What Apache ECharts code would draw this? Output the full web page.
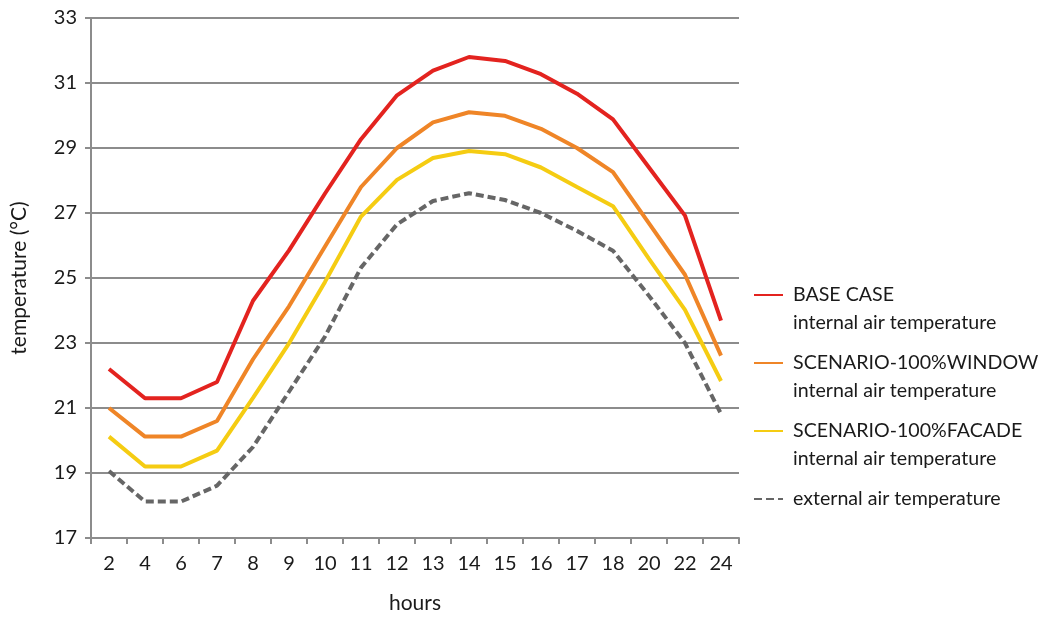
<!DOCTYPE html>
<html>
<head>
<meta charset="utf-8">
<script src="https://cdn.jsdelivr.net/npm/echarts@6/dist/echarts.min.js"></script>
<style>
html,body{margin:0;padding:0;background:#fff;}
#c{width:1042px;height:619px;}
</style>
</head>
<body>
<div id="c"></div>
<script>
var hours = ['2','4','6','7','8','9','10','11','12','13','14','15','16','17','18','20','22','24'];
var yTicks = [17,19,21,23,25,27,29,31,33];
var seriesNames = [
  'BASE CASE\ninternal air temperature',
  'SCENARIO-100%WINDOW\ninternal air temperature',
  'SCENARIO-100%FACADE\ninternal air temperature',
  'external air temperature'
];
var baseCase = [22.2,21.3,21.3,21.8,24.3,25.85,27.6,29.27,30.62,31.38,31.8,31.68,31.27,30.67,29.88,28.4,26.92,23.69];
var window100 = [21.0,20.12,20.12,20.6,22.5,24.13,25.97,27.8,29.0,29.79,30.1,29.99,29.59,29.0,28.26,26.68,25.1,22.61];
var facade100 = [20.12,19.2,19.2,19.69,21.31,22.99,24.88,26.89,28.02,28.69,28.91,28.81,28.4,27.8,27.21,25.59,24.02,21.83];
var external = [19.06,18.12,18.12,18.61,19.8,21.5,23.2,25.32,26.65,27.37,27.61,27.4,27.0,26.45,25.84,24.45,23.0,20.82];
var seriesData = [baseCase, window100, facade100, external];
var colors = ['#e3231f','#ef8527','#f5cc12','#666666'];

var font = 'Lato';
var chart = echarts.init(document.getElementById('c'));
chart.setOption({
  animation: false,
  backgroundColor: '#ffffff',
  grid: {left: 91, right: 303, top: 18, bottom: 73},
  legend: {
    orient: 'vertical',
    left: 753,
    top: 253,
    padding: 0,
    itemWidth: 29,
    itemHeight: 14,
    itemGap: -16,
    data: seriesNames,
    itemStyle: {opacity: 0},
    formatter: function (n) { return n.indexOf('\n') >= 0 ? '\n' + n : '\n' + n + '\n '; },
    textStyle: {fontFamily: font, fontSize: 19.6, color: '#1a1a1a', lineHeight: 28, padding: [0,0,0,5]}
  },
  xAxis: {
    type: 'category',
    data: hours,
    boundaryGap: true,
    name: 'hours',
    nameLocation: 'middle',
    nameGap: 55,
    nameTextStyle: {fontFamily: font, fontSize: 21, color: '#1a1a1a'},
    axisLine: {lineStyle: {color: '#8c8c8c', width: 2}},
    axisTick: {show: true, length: 6, alignWithLabel: false, lineStyle: {color: '#8c8c8c', width: 2}},
    axisLabel: {fontFamily: font, fontSize: 20, color: '#1a1a1a', margin: 16, interval: 0}
  },
  yAxis: {
    type: 'value',
    min: yTicks[0],
    max: yTicks[yTicks.length - 1],
    interval: 2,
    name: 'temperature (°C)',
    nameLocation: 'middle',
    nameGap: 61,
    nameTextStyle: {fontFamily: font, fontSize: 21, color: '#1a1a1a'},
    axisLine: {show: true, lineStyle: {color: '#8c8c8c', width: 2}},
    axisTick: {show: true, length: 6, lineStyle: {color: '#8c8c8c', width: 2}},
    axisLabel: {fontFamily: font, fontSize: 20, color: '#1a1a1a', margin: 14},
    splitLine: {show: true, lineStyle: {color: '#8c8c8c', width: 2}}
  },
  series: seriesNames.map(function (n, i) {
    return {
      name: n,
      type: 'line',
      data: seriesData[i],
      symbol: 'none',
      color: colors[i],
      lineStyle: {color: colors[i], width: 4, type: i === 3 ? [8, 4] : 'solid'},
      z: 10 - i
    };
  })
});
</script>
</body>
</html>
